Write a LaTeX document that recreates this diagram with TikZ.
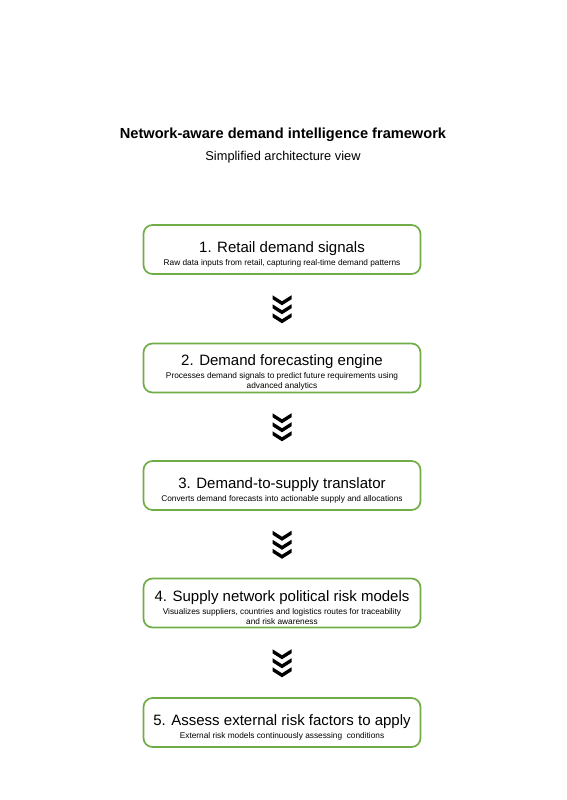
\documentclass[tikz,border=0pt]{standalone}
\usepackage{fontspec}
\setmainfont{Liberation Sans}
\usetikzlibrary{calc}
\definecolor{stepgreen}{RGB}{112,173,71}
\tikzset{
  stagebox/.style={draw=stepgreen,line width=1.7pt,rounded corners=9pt,fill=white,
    minimum width=277pt,minimum height=49pt,align=center,inner sep=2pt,
    font=\fontsize{8.3}{10}\selectfont},
  chevron/.style={fill=black,draw=none}
}
\newcommand{\stagetext}[2]{{\fontsize{15}{17}\selectfont\rule{0pt}{20pt}#1}\\[3pt]#2}
\begin{document}
\begin{tikzpicture}[x=1pt,y=-1pt]
\useasboundingbox (0,0) rectangle (566,800);
\node[font=\fontsize{14.6}{17}\selectfont\bfseries] (title) at (283,135) {Network-aware demand intelligence framework};
\node[font=\fontsize{12.8}{15}\selectfont] (subtitle) at (283,157) {Simplified architecture view};
\node[stagebox] (s1) at (282,249.5) {\stagetext{1. Retail demand signals}{Raw data inputs from retail, capturing real-time demand patterns}};
\node[stagebox] (s2) at (282,368) {\stagetext{2. Demand forecasting engine}{Processes demand signals to predict future requirements using\\advanced analytics}};
\node[stagebox] (s3) at (282,485.5) {\stagetext{3. Demand-to-supply translator}{Converts demand forecasts into actionable supply and allocations}};
\node[stagebox] (s4) at (282,603) {\stagetext{4. Supply network political risk models}{Visualizes suppliers, countries and logistics routes for traceability\\and risk awareness}};
\node[stagebox] (s5) at (282,722.5) {\stagetext{5. Assess external risk factors to apply}{External risk models continuously assessing\ \ conditions}};
\foreach \a/\b in {s1/s2,s2/s3,s3/s4,s4/s5}{
  \coordinate (m) at ($(\a.south)!0.5!(\b.north)$);
  \foreach \k in {-9,0,9}
    \fill[chevron] ($(m)+(-9.5,\k-4.5)$) -- ++(9.5,6) -- ++(9.5,-6) -- ++(0,4) -- ++(-9.5,6) -- ++(-9.5,-6) -- cycle;
}
\end{tikzpicture}
\end{document}
